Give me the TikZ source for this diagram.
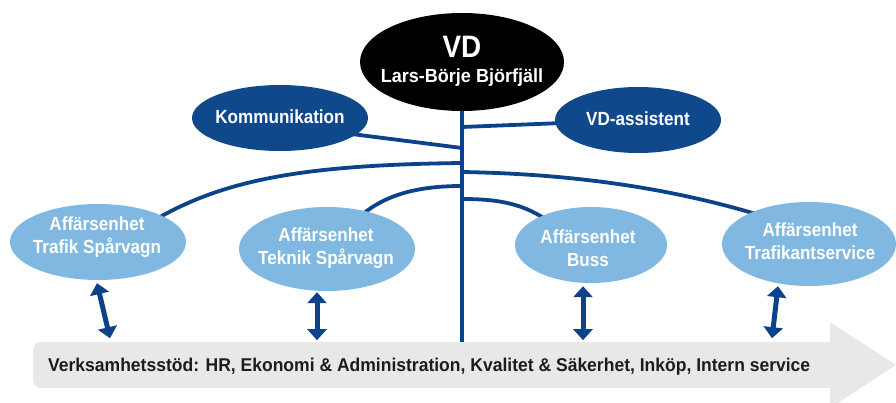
\documentclass[tikz,border=0pt]{standalone}
\usepackage{fontspec}
\usepackage{graphicx}
\setmainfont{Liberation Sans}
\usetikzlibrary{shapes.geometric,arrows.meta,calc}
\pgfdeclarelayer{back}
\pgfdeclarelayer{lines}
\pgfsetlayers{back,lines,main}
\definecolor{dblue}{RGB}{16,72,140}
\definecolor{lineblue}{RGB}{12,66,138}
\definecolor{lblue}{RGB}{128,184,225}
\definecolor{arrgray}{RGB}{232,232,232}
\definecolor{txtdark}{RGB}{28,28,28}
\begin{document}
\begin{tikzpicture}[x=1pt,y=-1pt,
  blob/.style={ellipse, draw=none, inner sep=0pt},
  darkblob/.style={blob, fill=dblue},
  lightblob/.style={blob, fill=lblue},
  btext/.style={text=white, font=\fontsize{19}{23}\selectfont\bfseries, align=center, inner sep=0pt, xscale=0.9, transform shape},
  conn/.style={draw=lineblue, line width=3.8pt},
  dbl/.style={draw=lineblue, line width=5pt, {Triangle[width=19pt,length=11pt]}-{Triangle[width=19pt,length=11pt]}}
]
\useasboundingbox (0,0) rectangle (896,403);

% support arrow
\begin{pgfonlayer}{back}
\fill[arrgray, rounded corners=8pt] (33,342) rectangle (840,388);
\fill[arrgray] (830,322) -- (896,365) -- (830,408) -- cycle;
\end{pgfonlayer}
\node[anchor=base west, text=txtdark, inner sep=0pt] (stod) at (48,371)
  {\resizebox{762pt}{\height}{\fontsize{18.5}{22}\selectfont\bfseries Verksamhetsstöd: HR, Ekonomi \& Administration, Kvalitet \& Säkerhet, Inköp, Intern service}};

% VD
\node[blob, fill=black, minimum width=204pt, minimum height=98pt] (vd) at (462,62) {};
\node[text=white, font=\fontsize{31}{31}\selectfont\bfseries, anchor=base, inner sep=0pt, xscale=0.9, transform shape] (vdT) at (462,58) {VD};
\node[text=white, font=\fontsize{19}{20}\selectfont\bfseries, anchor=base, inner sep=0pt, xscale=0.95, transform shape] (vdN) at (462,83) {Lars-Börje Björfjäll};

% staff
\node[darkblob, minimum width=176pt, minimum height=66pt] (komm) at (280,118) {};
\node[btext, anchor=base] (kommT) at (280,124) {Kommunikation};
\node[darkblob, minimum width=166pt, minimum height=66pt] (vdass) at (638,120) {};
\node[btext, anchor=base] (vdassT) at (638,126) {VD-assistent};

% business units
\node[lightblob, minimum width=176pt, minimum height=76pt] (trafik) at (98,242) {};
\node[btext] (trafikT) at (97,237) {Affärsenhet\\Trafik Spårvagn};
\node[lightblob, minimum width=176pt, minimum height=84pt] (teknik) at (327,249) {};
\node[btext] (teknikT) at (326,248) {Affärsenhet\\Teknik Spårvagn};
\node[lightblob, minimum width=152pt, minimum height=76pt] (buss) at (591,245) {};
\node[btext] (bussT) at (588,248) {Affärsenhet\\Buss};
\node[lightblob, minimum width=174pt, minimum height=84pt] (tservice) at (809,244) {};
\node[btext] (tserviceT) at (810,241) {Affärsenhet\\Trafikantservice};

% trunk points
\coordinate (trunkend) at (462,342);
\coordinate (tA) at (462,127);
\coordinate (tB) at (462,148);
\coordinate (tC) at (462,163);
\coordinate (tD) at (462,172);
\coordinate (tE) at (462,186);
\coordinate (tF) at (462,199);

\begin{pgfonlayer}{lines}
\draw[conn] (vd.center) -- (trunkend);
\draw[conn] (tA) -- (vdass.center);
\draw[conn] (tB) -- ($(komm.center)+(40,12)$);
\draw[conn] (tC) .. controls (300,165) and (220,180) .. ($(trafik.center)+(50,-18)$);
\draw[conn] (tE) .. controls (410,186) and (380,198) .. ($(teknik.center)+(30,-30)$);
\draw[conn] (tD) .. controls (580,174) and (680,190) .. ($(tservice.center)+(-40,-26)$);
\draw[conn] (tF) .. controls (500,199) and (525,204) .. ($(buss.center)+(-40,-22)$);
\end{pgfonlayer}

% links to support
\draw[dbl] ($(trafik.south)+(-1,3)$) -- ($(trafik.south)+(12,58)$);
\draw[dbl] ($(teknik.south)+(-10,1)$) -- ($(teknik.south)+(-10,49)$);
\draw[dbl] ($(buss.south)+(-8,3)$) -- ($(buss.south)+(-8,57)$);
\draw[dbl] ($(tservice.south)+(-31,0)$) -- ($(tservice.south)+(-37,52)$);
\end{tikzpicture}
\end{document}
